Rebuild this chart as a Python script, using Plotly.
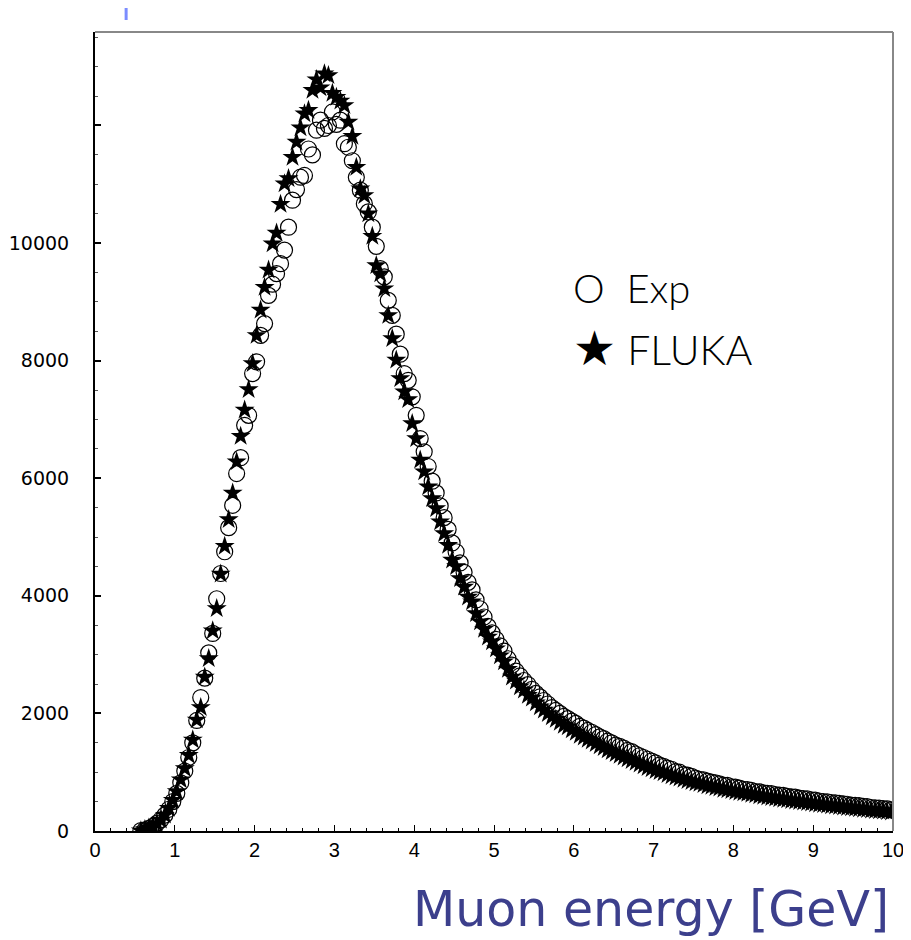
import plotly.graph_objects as go

# bin centres [GeV]
energy = [
    0.575, 0.625, 0.675, 0.725, 0.775, 0.825, 0.875, 0.925, 0.975, 1.025,
    1.075, 1.125, 1.175, 1.225, 1.275, 1.325, 1.375, 1.425, 1.475, 1.525,
    1.575, 1.625, 1.675, 1.725, 1.775, 1.825, 1.875, 1.925, 1.975, 2.025,
    2.075, 2.125, 2.175, 2.225, 2.275, 2.325, 2.375, 2.425, 2.475, 2.525,
    2.575, 2.625, 2.675, 2.725, 2.775, 2.825, 2.875, 2.925, 2.975, 3.025,
    3.075, 3.125, 3.175, 3.225, 3.275, 3.325, 3.375, 3.425, 3.475, 3.525,
    3.575, 3.625, 3.675, 3.725, 3.775, 3.825, 3.875, 3.925, 3.975, 4.025,
    4.075, 4.125, 4.175, 4.225, 4.275, 4.325, 4.375, 4.425, 4.475, 4.525,
    4.575, 4.625, 4.675, 4.725, 4.775, 4.825, 4.875, 4.925, 4.975, 5.025,
    5.075, 5.125, 5.175, 5.225, 5.275, 5.325, 5.375, 5.425, 5.475, 5.525,
    5.575, 5.625, 5.675, 5.725, 5.775, 5.825, 5.875, 5.925, 5.975, 6.025,
    6.075, 6.125, 6.175, 6.225, 6.275, 6.325, 6.375, 6.425, 6.475, 6.525,
    6.575, 6.625, 6.675, 6.725, 6.775, 6.825, 6.875, 6.925, 6.975, 7.025,
    7.075, 7.125, 7.175, 7.225, 7.275, 7.325, 7.375, 7.425, 7.475, 7.525,
    7.575, 7.625, 7.675, 7.725, 7.775, 7.825, 7.875, 7.925, 7.975, 8.025,
    8.075, 8.125, 8.175, 8.225, 8.275, 8.325, 8.375, 8.425, 8.475, 8.525,
    8.575, 8.625, 8.675, 8.725, 8.775, 8.825, 8.875, 8.925, 8.975, 9.025,
    9.075, 9.125, 9.175, 9.225, 9.275, 9.325, 9.375, 9.425, 9.475, 9.525,
    9.575, 9.625, 9.675, 9.725, 9.775, 9.825, 9.875, 9.925, 9.975,
]

exp_counts = [
    8, 20, 45, 80, 130, 190, 270, 370, 500, 640,
    820, 1020, 1250, 1500, 1880, 2270, 2600, 3030, 3360, 3950,
    4380, 4750, 5160, 5540, 6080, 6350, 6900, 7070, 7780, 7980,
    8430, 8630, 9110, 9300, 9480, 9650, 9880, 10270, 10730, 10910,
    11120, 11150, 11600, 11500, 11920, 12090, 11950, 12000, 12230, 12020,
    12090, 11690, 11630, 11400, 11120, 10900, 10670, 10530, 10270, 9945,
    9565, 9425, 9025, 8770, 8450, 8110, 7780, 7665, 7385, 7070,
    6675, 6450, 6200, 5950, 5750, 5530, 5330, 5130, 4900, 4750,
    4560, 4400, 4230, 4100, 3930, 3780, 3640, 3480, 3370, 3260,
    3150, 3060, 2930, 2820, 2720, 2640, 2560, 2490, 2410, 2340,
    2280, 2220, 2160, 2100, 2050, 2000, 1950, 1910, 1870, 1830,
    1780, 1750, 1710, 1680, 1640, 1600, 1570, 1530, 1500, 1460,
    1440, 1410, 1370, 1350, 1310, 1280, 1250, 1220, 1190, 1160,
    1120, 1100, 1070, 1050, 1010, 1000, 960, 950, 930, 900,
    880, 870, 850, 830, 820, 800, 780, 775, 750, 745,
    730, 710, 705, 690, 670, 665, 650, 640, 635, 620,
    610, 605, 590, 580, 575, 560, 550, 545, 530, 525,
    510, 500, 495, 485, 480, 470, 460, 455, 440, 435,
    430, 420, 415, 400, 395, 390, 380, 375, 360,
]

fluka_counts = [
    5, 25, 50, 85, 125, 185, 270, 385, 525, 670,
    870, 1065, 1290, 1550, 1890, 2100, 2620, 2935, 3405, 3785,
    4370, 4845, 5300, 5750, 6280, 6715, 7160, 7510, 7950, 8430,
    8860, 9250, 9540, 9990, 10170, 10660, 11010, 11100, 11460, 11720,
    11960, 12200, 12260, 12600, 12780, 12640, 12880, 12850, 12550, 12480,
    12415, 12340, 12060, 11815, 11290, 10925, 10810, 10500, 10115, 9620,
    9480, 9225, 8770, 8375, 8010, 7695, 7470, 7340, 6930, 6675,
    6310, 6110, 5855, 5655, 5485, 5260, 5060, 4860, 4610, 4500,
    4295, 4150, 3980, 3900, 3700, 3560, 3430, 3300, 3220, 3100,
    2980, 2880, 2750, 2620, 2550, 2455, 2400, 2310, 2260, 2180,
    2115, 2060, 2000, 1945, 1900, 1850, 1800, 1775, 1720, 1680,
    1630, 1600, 1560, 1530, 1490, 1450, 1420, 1380, 1350, 1320,
    1290, 1260, 1230, 1200, 1170, 1140, 1110, 1080, 1060, 1030,
    1010, 990, 960, 940, 920, 900, 880, 860, 840, 820,
    810, 790, 770, 760, 740, 730, 710, 700, 690, 670,
    660, 650, 640, 625, 615, 600, 590, 580, 570, 560,
    550, 540, 530, 520, 510, 500, 495, 485, 475, 465,
    455, 450, 440, 430, 425, 415, 410, 400, 395, 385,
    380, 370, 365, 355, 350, 345, 340, 330, 325,
]

y_ticks = [0, 2000, 4000, 6000, 8000, 10000, 12000]
y_labels = ["0", "2000", "4000", "6000", "8000", "10000", ""]
x_ticks = [0, 1, 2, 3, 4, 5, 6, 7, 8, 9, 10]

fig = go.Figure()

fig.add_trace(go.Scatter(
    x=energy, y=exp_counts, mode="markers", name="Exp",
    marker=dict(symbol="circle-open", size=16, color="black", line=dict(width=1.2)),
))
fig.add_trace(go.Scatter(
    x=energy, y=fluka_counts, mode="markers", name="FLUKA",
    marker=dict(symbol="star", size=15, color="black", line=dict(width=0)),
))

fig.update_xaxes(
    range=[0, 10], tickvals=x_ticks, ticktext=[str(t) for t in x_ticks],
    showgrid=False, zeroline=False, showline=True, linecolor="black", linewidth=2,
    ticks="inside", ticklen=6, tickwidth=1.2, tickcolor="black",
    minor=dict(dtick=0.2, ticks="inside", ticklen=3, tickcolor="black", tickwidth=1),
    tickfont=dict(family="Liberation Sans", size=20, color="black"),
    automargin=False,
)
fig.update_yaxes(
    range=[0, 13590], tickvals=y_ticks, ticktext=y_labels,
    showgrid=False, zeroline=False, showline=True, linecolor="black", linewidth=2,
    ticks="inside", ticklen=6, tickwidth=1.5, tickcolor="black",
    minor=dict(dtick=500, ticks="inside", ticklen=3, tickcolor="#555555", tickwidth=1),
    tickfont=dict(family="DejaVu Sans", size=19, color="black"),
    ticklabelstandoff=20, automargin=False,
)

# grey top / right frame
fig.add_shape(type="line", xref="paper", yref="paper", x0=0, x1=1, y0=1, y1=1,
              line=dict(color="#888888", width=2))
fig.add_shape(type="line", xref="paper", yref="paper", x0=1, x1=1, y0=0, y1=1,
              line=dict(color="#888888", width=2))
# small blue mark above the frame
fig.add_shape(type="line", xref="paper", yref="paper", x0=0.039, x1=0.039, y0=1.015, y1=1.032,
              line=dict(color="#7b8cff", width=3))

# legend written as text
fig.add_annotation(text="O  Exp", xref="paper", yref="paper", x=0.597, y=0.68,
                   xanchor="left", yanchor="middle", showarrow=False,
                   font=dict(family="Lato Light, Lato", size=40, color="black"))
fig.add_annotation(text="<span style='font-size:48px'>★</span> FLUKA", xref="paper", yref="paper",
                   x=0.597, y=0.606, xanchor="left", yanchor="middle", showarrow=False,
                   font=dict(family="Lato Light, Lato", size=41, color="black"))

fig.add_annotation(text="Muon energy [GeV]", xref="paper", yref="paper", x=0.997, y=-0.098,
                   xanchor="right", yanchor="middle", showarrow=False,
                   font=dict(family="DejaVu Sans", size=49, color="#3c3f8c"))

# page body adds an 8 px margin, so the figure is 8 px smaller than the window
fig.update_layout(
    width=903, height=932,
    margin=dict(l=87, r=18, t=24, b=109),
    paper_bgcolor="white", plot_bgcolor="white",
    showlegend=False,
)

fig.write_html("out.html")
